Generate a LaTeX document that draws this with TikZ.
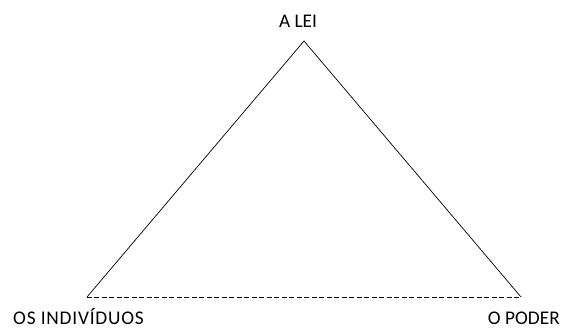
\documentclass[tikz,border=0pt]{standalone}
\usepackage{fontspec}
\setmainfont{Carlito}
\usetikzlibrary{positioning}

\begin{document}
\begin{tikzpicture}[x=0.03cm, y=-0.03cm]
            \useasboundingbox (0,0) rectangle (564,329);
            \tikzset{label text/.style={inner sep=0pt, font=\fontsize{16.5}{18}\selectfont}}

            % Corners
            \coordinate (lei) at (304,41);
            \coordinate (individuos) at (87,297);
            \coordinate (poder) at (521,297);

            % Labels
            \node[label text, anchor=base] (leitext) at (298,27) {A LEI};
            \node[label text, anchor=base west] (indtext) at (13,324) {\addfontfeature{LetterSpace=4}OS INDIVÍDUOS};
            \node[label text, anchor=base east] (podertext) at (560,324) {O PODER};

            % Sides
            \draw[line width=0.6pt] (individuos) -- (lei) -- (poder);
            \draw[line width=0.6pt, dash pattern=on 4.2pt off 2.2pt] (individuos) -- (poder);
        \end{tikzpicture}
\end{document}
